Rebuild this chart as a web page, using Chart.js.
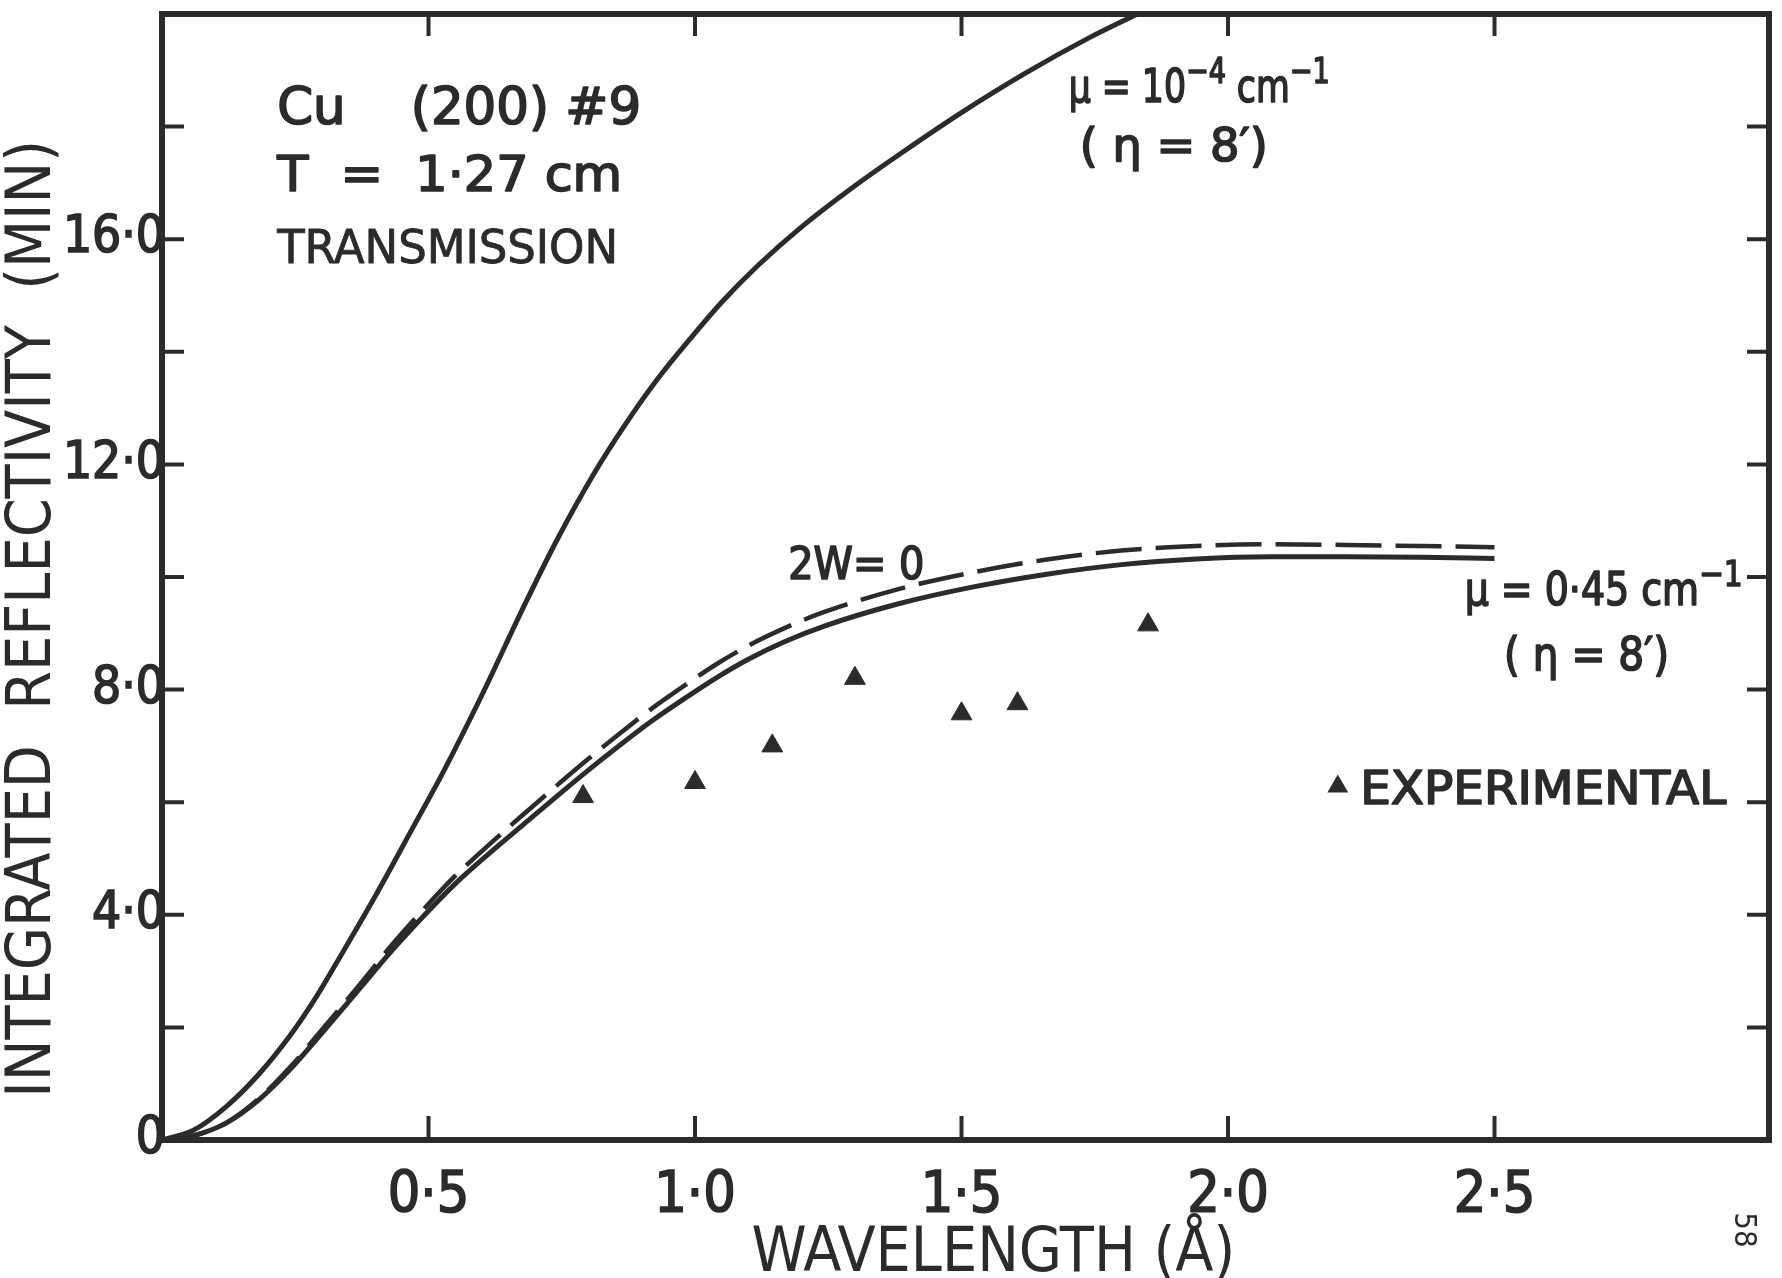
<!DOCTYPE html>
<html>
<head>
<meta charset="utf-8">
<script src="https://cdn.jsdelivr.net/npm/chart.js@4.4.1/dist/chart.umd.min.js"></script>
<style>
  html, body { margin: 0; padding: 0; background: #ffffff; }
  canvas { display: block; }
</style>
</head>
<body>
<canvas id="chart" width="1782" height="1278"></canvas>
<script>
// ---------------- data ----------------
// upper solid curve: mu = 1e-4 cm^-1 (eta = 8')
const upperWavelength = [0, 0.06, 0.12, 0.18, 0.24, 0.29, 0.34, 0.40, 0.465, 0.53, 0.60, 0.68, 0.74, 0.81, 0.87, 0.93, 0.99, 1.05, 1.12, 1.20, 1.29, 1.39, 1.50, 1.62, 1.74, 1.83];
const upperReflectivity = [0, 0.18, 0.59, 1.15, 1.85, 2.55, 3.35, 4.33, 5.45, 6.58, 7.90, 9.50, 10.64, 11.83, 12.72, 13.52, 14.22, 14.88, 15.55, 16.22, 16.88, 17.55, 18.25, 18.95, 19.58, 20.00];

// lower curves: mu = 0.45 cm^-1 (solid) and 2W = 0 (dashed)
const lowerWavelength = [0, 0.06, 0.12, 0.18, 0.24, 0.30, 0.37, 0.43, 0.49, 0.55, 0.62, 0.68, 0.74, 0.80, 0.86, 0.92, 0.98, 1.04, 1.10, 1.17, 1.24, 1.38, 1.52, 1.66, 1.80, 1.94, 2.08, 2.22, 2.36, 2.50];
const solidReflectivity = [0, 0.08, 0.30, 0.70, 1.25, 1.90, 2.68, 3.35, 3.97, 4.55, 5.14, 5.62, 6.10, 6.57, 7.02, 7.45, 7.84, 8.21, 8.54, 8.86, 9.12, 9.52, 9.82, 10.05, 10.22, 10.32, 10.36, 10.36, 10.35, 10.33];
const dashedReflectivity = [0, 0.08, 0.30, 0.72, 1.29, 1.96, 2.75, 3.45, 4.09, 4.69, 5.30, 5.80, 6.29, 6.77, 7.23, 7.67, 8.07, 8.45, 8.78, 9.10, 9.37, 9.78, 10.08, 10.31, 10.47, 10.55, 10.58, 10.57, 10.55, 10.53];

// experimental points (triangles)
const expWavelength = [0.79, 1.00, 1.145, 1.30, 1.50, 1.605, 1.85];
const expReflectivity = [6.10, 6.35, 7.00, 8.20, 7.57, 7.75, 9.15];

// tick labels
const xTickValues = [0.5, 1.0, 1.5, 2.0, 2.5];
const xTickLabels = ['0·5', '1·0', '1·5', '2·0', '2·5'];
const yTickValues = [0, 4, 8, 12, 16];
const yTickLabels = ['0', '4·0', '8·0', '12·0', '16·0'];
const xMarkValues = [0.5, 1.0, 1.5, 2.0, 2.5];
const yMarkValues = [2, 4, 6, 8, 10, 12, 14, 16, 18];

// ---------------- styling ----------------
const INK = '#2b2b2b';

function hasFont(name) {
  const c = document.createElement('canvas').getContext('2d');
  const s = 'WAVELENGTH REFLECTIVITY 0123456789 (MIN)';
  for (const base of ['monospace', 'serif']) {
    c.font = '40px ' + base; const a = c.measureText(s).width;
    c.font = '40px "' + name + '", ' + base; const b = c.measureText(s).width;
    if (Math.abs(a - b) > 0.5) return true;
  }
  return false;
}
const FONT_NAME = ['Liberation Sans Narrow', 'DejaVu Sans Condensed', 'Roboto Condensed', 'Roboto', 'DejaVu Sans'].find(hasFont) || 'sans-serif';
const FONT = '"' + FONT_NAME + '", sans-serif';

const mctx = document.createElement('canvas').getContext('2d');
function sizeFor(text, targetW, maxS) {
  mctx.font = '100px ' + FONT;
  return Math.min(maxS, Math.round(100 * targetW / mctx.measureText(text).width));
}
const yTickSize = sizeFor('16·0', 102, 54);
const xTickSize = sizeFor('0·5', 82, 57);
const xTitleSize = sizeFor('WAVELENGTH (Å)', 485, 64);
const yTitleSize = sizeFor('INTEGRATED  REFLECTIVITY  (MIN)', 950, 64);

const pts = (xs, ys) => xs.map((x, i) => ({ x: x, y: ys[i] }));

// annotations placed in data coordinates
const notes = [
  { segs: [{ t: 'Cu    (200) #9' }], x: 0.216, y: 18.05, size: 51, w: 364 },
  { segs: [{ t: 'T  =  1·27 cm' }], x: 0.216, y: 16.86, size: 49, w: 345 },
  { segs: [{ t: 'TRANSMISSION' }], x: 0.216, y: 15.58, size: 46, w: 341, stroke: 0.8 },
  { segs: [{ t: 'μ = 10' }, { t: '−4', sup: true }, { t: ' cm' }, { t: '−1', sup: true }], x: 1.701, y: 18.44, size: 46, w: 261 },
  { segs: [{ t: '( η = 8′)' }], x: 1.722, y: 17.39, size: 46, w: 188 },
  { segs: [{ t: '2W= 0' }], x: 1.175, y: 9.97, size: 44, w: 136 },
  { segs: [{ t: 'μ = 0·45 cm' }, { t: '−1', sup: true }], x: 2.444, y: 9.50, size: 46, w: 278 },
  { segs: [{ t: '( η = 8′)' }], x: 2.518, y: 8.34, size: 46, w: 165 },
  { segs: [{ t: 'EXPERIMENTAL' }], x: 2.248, y: 5.96, size: 47, w: 366 }
];
const legendMarker = { x: 2.206, y: 6.28, r: 12 };

function drawRich(ctx, n, x, y) {
  const sizes = n.segs.map(s => s.sup ? n.size * 0.78 : n.size);
  let total = 0;
  const widths = n.segs.map((s, i) => {
    ctx.font = sizes[i] + 'px ' + FONT;
    const w = ctx.measureText(s.t).width; total += w; return w;
  });
  const sx = n.w ? n.w / total : 1;
  ctx.save();
  ctx.translate(x, y);
  ctx.scale(sx, 1);
  ctx.textAlign = 'left';
  ctx.textBaseline = 'alphabetic';
  ctx.lineWidth = n.stroke !== undefined ? n.stroke : 1.6;
  ctx.lineJoin = 'round';
  let cx = 0;
  n.segs.forEach((s, i) => {
    ctx.font = sizes[i] + 'px ' + FONT;
    const yy = s.sup ? -n.size * 0.42 : 0;
    ctx.fillText(s.t, cx, yy);
    if (ctx.lineWidth > 0) ctx.strokeText(s.t, cx, yy);
    cx += widths[i];
  });
  ctx.restore();
}

const framePlugin = {
  id: 'frameTicks',
  afterDraw(chart) {
    const ctx = chart.ctx, a = chart.chartArea;
    const xs = chart.scales.x, ys = chart.scales.y;
    ctx.save();
    ctx.strokeStyle = INK; ctx.fillStyle = INK;
    // inward tick marks on all four sides
    ctx.lineWidth = 4;
    ctx.beginPath();
    yMarkValues.forEach(v => {
      const p = ys.getPixelForValue(v);
      ctx.moveTo(a.left, p); ctx.lineTo(a.left + 22, p);
      ctx.moveTo(a.right, p); ctx.lineTo(a.right - 22, p);
    });
    xMarkValues.forEach(v => {
      const p = xs.getPixelForValue(v);
      ctx.moveTo(p, a.bottom); ctx.lineTo(p, a.bottom - 24);
      ctx.moveTo(p, a.top); ctx.lineTo(p, a.top + 22);
    });
    ctx.stroke();
    // frame
    ctx.lineWidth = 6;
    ctx.strokeRect(a.left, a.top, a.right - a.left, a.bottom - a.top);
    // text annotations
    notes.forEach(n => drawRich(ctx, n, xs.getPixelForValue(n.x), ys.getPixelForValue(n.y)));
    // legend triangle
    const lx = xs.getPixelForValue(legendMarker.x), ly = ys.getPixelForValue(legendMarker.y), r = legendMarker.r;
    ctx.beginPath();
    ctx.moveTo(lx, ly - r);
    ctx.lineTo(lx + r * 0.866, ly + r / 2);
    ctx.lineTo(lx - r * 0.866, ly + r / 2);
    ctx.closePath();
    ctx.fill();
    // page number (rotated)
    ctx.translate(a.right - 26, a.bottom + 90);
    ctx.rotate(Math.PI / 2);
    ctx.font = '31px ' + FONT;
    ctx.textAlign = 'center'; ctx.textBaseline = 'middle';
    ctx.fillText('58', 0, 0);
    ctx.restore();
  }
};

const lineStyle = { borderColor: INK, borderWidth: 5, pointRadius: 0, pointHitRadius: 0, cubicInterpolationMode: 'monotone', fill: false };

new Chart(document.getElementById('chart'), {
  type: 'line',
  data: {
    datasets: [
      Object.assign({ label: 'μ = 10⁻⁴ cm⁻¹ (η = 8′)', data: pts(upperWavelength, upperReflectivity) }, lineStyle),
      Object.assign({ label: '2W = 0', data: pts(lowerWavelength, dashedReflectivity), borderDash: [46, 14] }, lineStyle, { borderWidth: 4.5 }),
      Object.assign({ label: 'μ = 0·45 cm⁻¹ (η = 8′)', data: pts(lowerWavelength, solidReflectivity) }, lineStyle),
      {
        label: 'Experimental', data: pts(expWavelength, expReflectivity), showLine: false,
        pointStyle: 'triangle', pointRadius: 12, pointBackgroundColor: INK, pointBorderColor: INK, pointBorderWidth: 1
      }
    ]
  },
  options: {
    responsive: false, animation: false, devicePixelRatio: 1, events: [],
    layout: { padding: { left: 0, top: 14, right: 4, bottom: 0 } },
    plugins: { legend: { display: false }, tooltip: { enabled: false } },
    scales: {
      x: {
        type: 'linear', min: 0, max: 3.015,
        grid: { display: false, drawTicks: false }, border: { display: false },
        afterBuildTicks: s => { s.ticks = xTickValues.map(v => ({ value: v })); },
        afterFit: s => { s.height = 138; s.paddingLeft = 0; s.paddingRight = 0; },
        ticks: {
          callback: (v) => { const i = xTickValues.indexOf(v); return i >= 0 ? xTickLabels[i] : ''; },
          color: INK, font: { family: FONT, size: xTickSize }, padding: Math.max(0, 57 - 0.6 * xTickSize),
          textStrokeColor: INK, textStrokeWidth: 1.6,
          maxRotation: 0, minRotation: 0, autoSkip: false
        },
        title: {
          display: true, text: '\u2002\u2002WAVELENGTH (Å)', color: INK,
          font: { family: FONT, size: xTitleSize, lineHeight: 46 / xTitleSize }, padding: { top: 0, bottom: 0 }
        }
      },
      y: {
        type: 'linear', min: 0, max: 20,
        grid: { display: false, drawTicks: false }, border: { display: false },
        afterBuildTicks: s => { s.ticks = yTickValues.map(v => ({ value: v })); },
        afterFit: s => { s.width = 162; s.paddingTop = 0; s.paddingBottom = 0; },
        ticks: {
          callback: (v) => { const i = yTickValues.indexOf(v); return i >= 0 ? yTickLabels[i] : ''; },
          color: INK, font: { family: FONT, size: yTickSize }, padding: -3, autoSkip: false,
          textStrokeColor: INK, textStrokeWidth: 1.6
        },
        title: {
          display: true, text: 'INTEGRATED  REFLECTIVITY  (MIN)\u2002\u2002\u2002', color: INK,
          font: { family: FONT, size: yTitleSize, lineHeight: 1.1 }, padding: { top: 0, bottom: 0 }
        }
      }
    }
  },
  plugins: [framePlugin]
});
</script>
</body>
</html>
